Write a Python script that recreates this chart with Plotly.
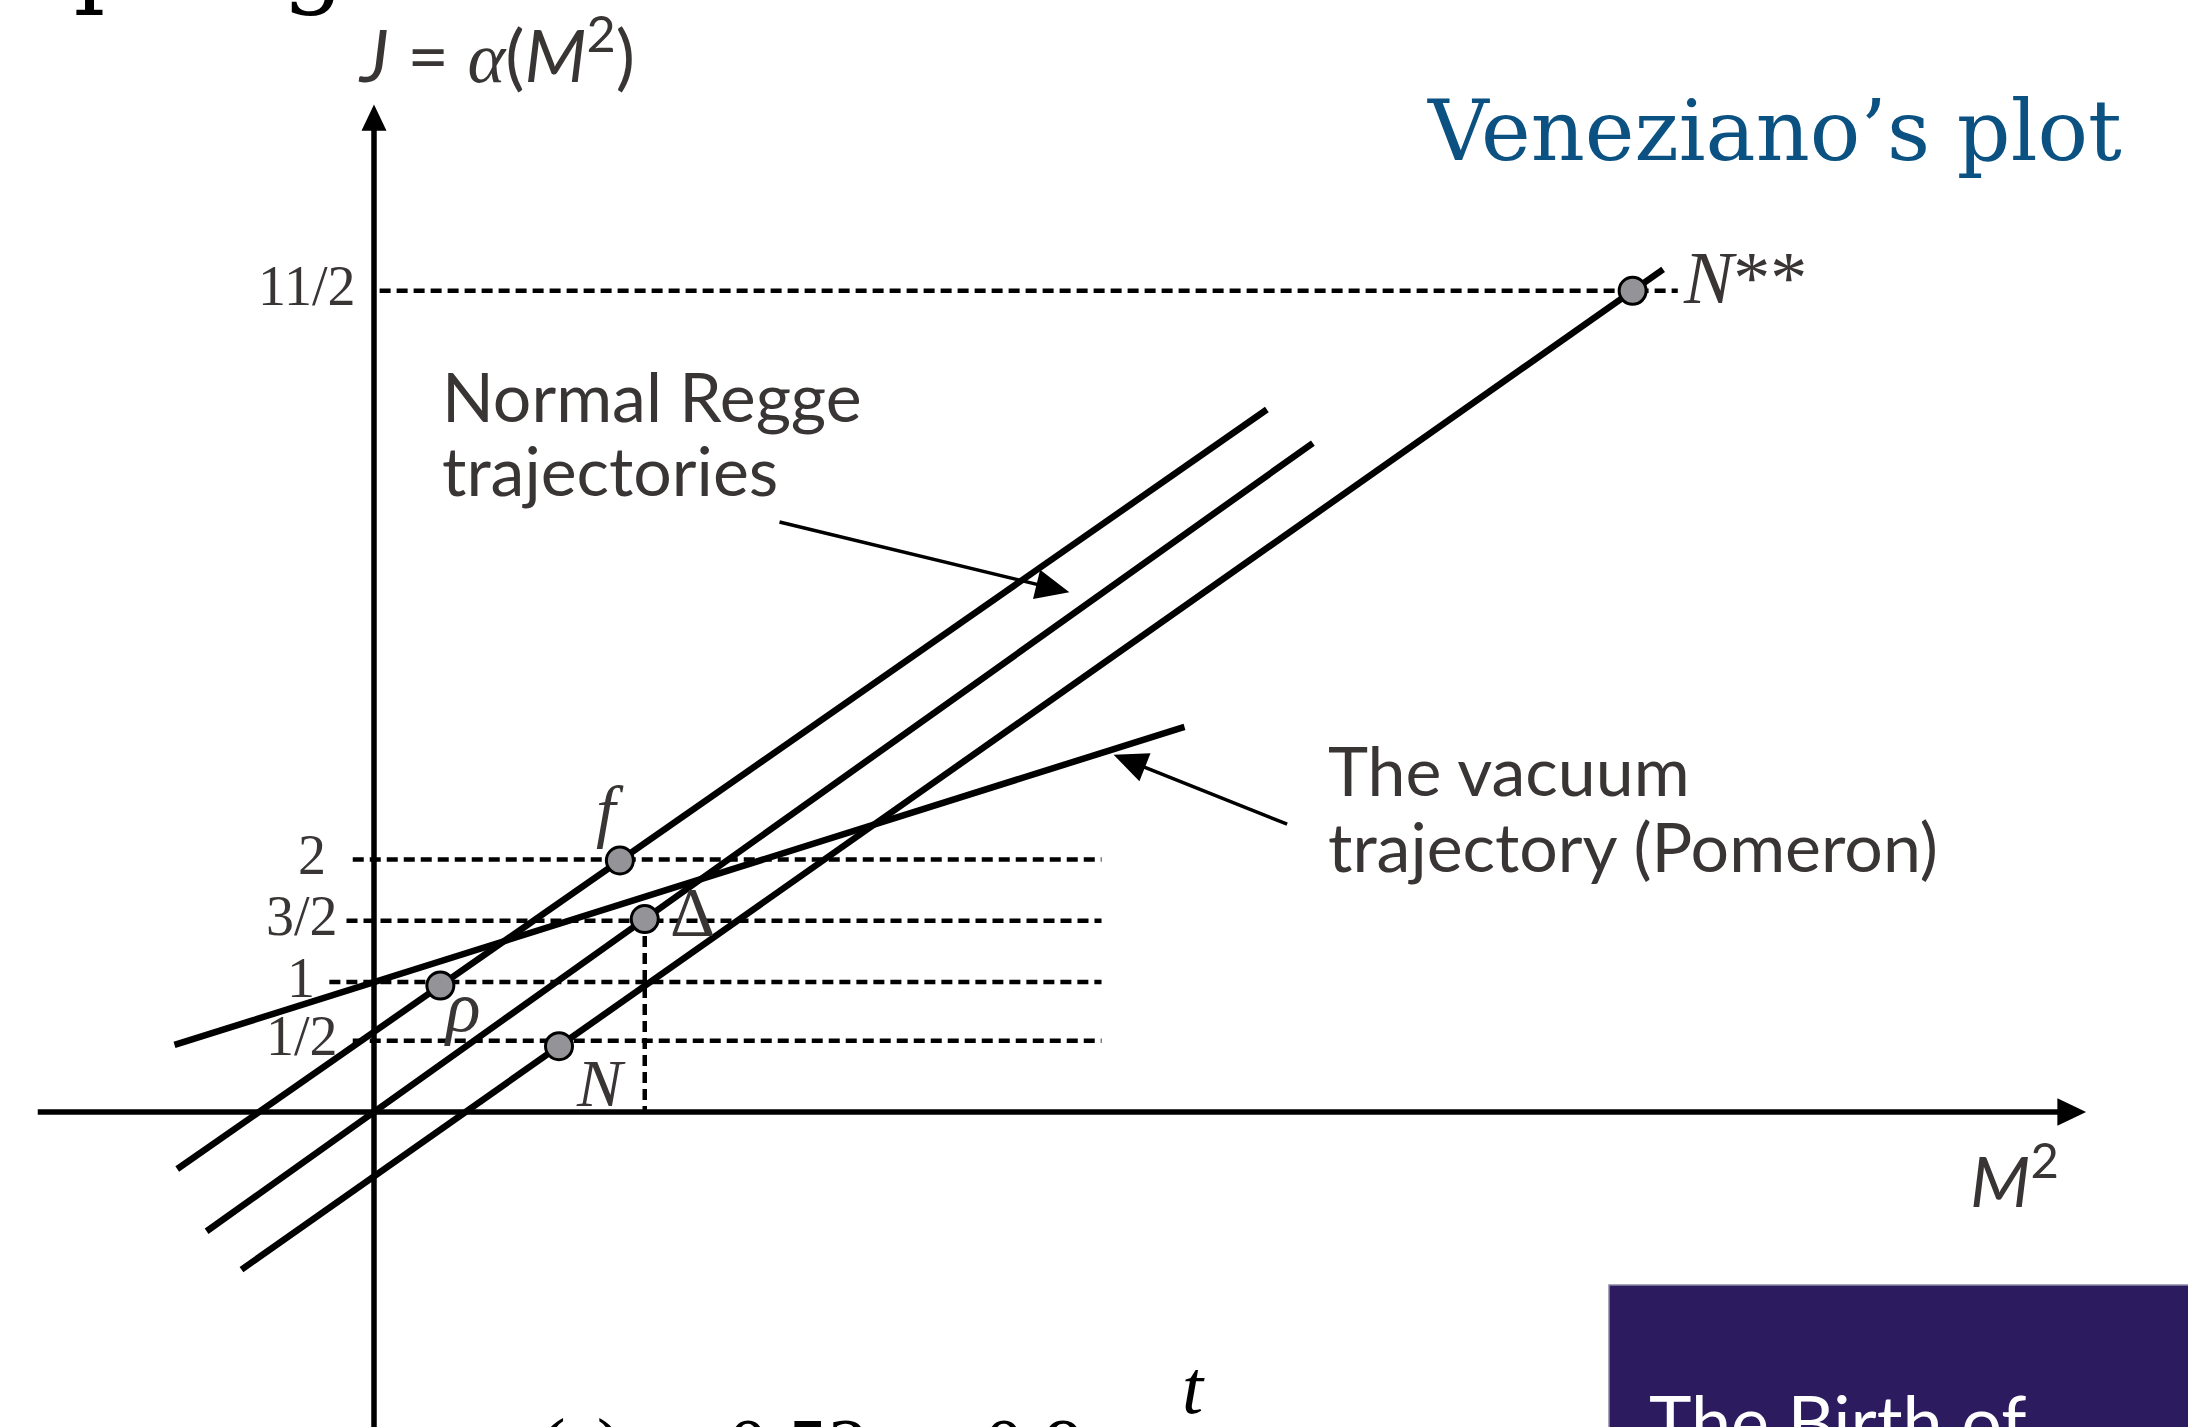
import plotly.graph_objects as go

# ---- data -------------------------------------------------------------
# spin values marked on the J axis and the heights at which they are drawn
# (the diagram is schematic: the J axis is not to scale)
J_LABELS = ["1/2", "1", "3/2", "2", "11/2"]
J_LEVELS = [0.57, 1.04, 1.53, 2.02, 6.57]

# trajectories  J = intercept + slope * M^2
TRAJ_NAMES = ["rho / f", "Delta", "N", "Pomeron"]
TRAJ_INTERCEPT = [0.641, 0.0, -0.515, 1.039]
TRAJ_SLOPE = [0.697, 0.7125, 0.7036, 0.315]
TRAJ_M2_START = [-1.574, -1.339, -1.060, -1.596]
TRAJ_M2_END = [7.143, 7.511, 10.313, 6.484]

# resonances sitting on the trajectories
HADRON_LABELS = ["<i>ρ</i>", "<i>f</i>", "Δ", "<i>N</i>", "<i>N</i>**"]
HADRON_TRAJ = [0, 0, 1, 2, 2]
HADRON_M2 = [0.531, 1.967, 2.166, 1.480, 10.069]

# ---- layout constants ---------------------------------------------------
W, H = 2188, 1427
X_RANGE = [-2.992, 14.512]
Y_RANGE = [-2.52, 8.896]

INK = "#3a3535"
SERIF = "Liberation Serif, Times New Roman, serif"
HAND = "Lato, sans-serif"

# dashed guide lines (one per J level)
DASH_START = [-0.17, -0.357, -0.22, -0.17, 0.045]
DASH_END = [5.82, 5.82, 5.82, 5.82, 10.43]
DASH = dict(color="black", width=4.5, dash="11px,6px")
# tick-label anchors (right edge) and label offsets of the resonances
TICK_RIGHT = [-0.274, -0.458, -0.274, -0.368, -0.14]
LABEL_DX = [0.173, -0.079, 0.378, 0.336, 0.387]
LABEL_DY = [-0.171, 0.404, 0.049, -0.294, 0.104]
LABEL_SIZE = [72, 70, 70, 68, 74]


def traj_j(k, m2):
    return TRAJ_INTERCEPT[k] + TRAJ_SLOPE[k] * m2


def arrow_head(tip, tail, length, half):
    """Filled triangle path pointing from tail towards tip (data units)."""
    dx, dy = tip[0] - tail[0], tip[1] - tail[1]
    n = (dx * dx + dy * dy) ** 0.5
    ux, uy = dx / n, dy / n
    bx, by = tip[0] - ux * length, tip[1] - uy * length
    px, py = -uy * half, ux * half
    return (f"M {tip[0]},{tip[1]} L {bx + px},{by + py} "
            f"L {bx - px},{by - py} Z")


fig = go.Figure()

# horizontal dashed guides
for lev, x0, x1 in zip(J_LEVELS, DASH_START, DASH_END):
    fig.add_trace(go.Scatter(x=[x0, x1], y=[lev, lev], mode="lines",
                             line=DASH, hoverinfo="skip"))

# vertical dashed drop from the Delta
d_m2 = HADRON_M2[2]
fig.add_trace(go.Scatter(x=[d_m2, d_m2], y=[traj_j(1, d_m2), 0], mode="lines",
                         line=DASH, hoverinfo="skip"))

# axes
AX_Y_TIP = (0, 8.06)
AX_X_TIP = (13.697, 0)
fig.add_trace(go.Scatter(x=[0, 0], y=[Y_RANGE[0] - 0.1, AX_Y_TIP[1] - 0.1],
                         mode="lines", line=dict(color="black", width=5.5),
                         hoverinfo="skip"))
fig.add_trace(go.Scatter(x=[-2.69, AX_X_TIP[0] - 0.1], y=[0, 0],
                         mode="lines", line=dict(color="black", width=5.5),
                         hoverinfo="skip"))

# trajectories
for k in range(len(TRAJ_NAMES)):
    xs = [TRAJ_M2_START[k], TRAJ_M2_END[k]]
    fig.add_trace(go.Scatter(x=xs, y=[traj_j(k, v) for v in xs], mode="lines",
                             name=TRAJ_NAMES[k],
                             line=dict(color="black", width=6.5),
                             hoverinfo="skip"))

# resonances
hx = HADRON_M2
hy = [traj_j(t, m) for t, m in zip(HADRON_TRAJ, HADRON_M2)]
fig.add_trace(go.Scatter(x=hx, y=hy, mode="markers",
                         marker=dict(size=27, color="#939398",
                                     line=dict(color="black", width=3)),
                         hoverinfo="skip"))

# pointer arrows from the captions
REGGE_TAIL, REGGE_TIP = (3.244, 4.72), (5.563, 4.158)
POM_TAIL, POM_TIP = (7.305, 2.303), (5.917, 2.858)
shapes = []
for tail, tip in [(REGGE_TAIL, REGGE_TIP), (POM_TAIL, POM_TIP)]:
    dx, dy = tip[0] - tail[0], tip[1] - tail[1]
    n = (dx * dx + dy * dy) ** 0.5
    end = (tip[0] - dx / n * 0.2, tip[1] - dy / n * 0.2)
    fig.add_trace(go.Scatter(x=[tail[0], end[0]], y=[tail[1], end[1]], mode="lines",
                             line=dict(color="black", width=3.5), hoverinfo="skip"))
    shapes.append(dict(type="path", xref="x", yref="y",
                       path=arrow_head(tip, tail, 0.27, 0.12),
                       fillcolor="black", line=dict(width=0)))

shapes.append(dict(type="path", xref="x", yref="y",
                   path=arrow_head(AX_Y_TIP, (0, 0), 0.21, 0.1),
                   fillcolor="black", line=dict(width=0)))
shapes.append(dict(type="path", xref="x", yref="y",
                   path=arrow_head(AX_X_TIP, (0, 0), 0.23, 0.11),
                   fillcolor="black", line=dict(width=0)))

# book cover in the corner
shapes.append(dict(type="rect", xref="x", yref="y", x0=9.88, x1=14.7,
                   y0=-2.7, y1=-1.384, fillcolor="#2c1b5e",
                   line=dict(color="#8c88a8", width=1.5), layer="below"))


def text(t, x, y, size, family=SERIF, color=INK, xa="center", ya="middle", **kw):
    return dict(text=t, x=x, y=y, xref="x", yref="y", showarrow=False,
                xanchor=xa, yanchor=ya,
                font=dict(size=size, family=family, color=color, **kw))


ann = []
# J tick labels
for lab, lev, xr in zip(J_LABELS, J_LEVELS, TICK_RIGHT):
    ann.append(text(lab, xr, lev + 0.035, 56, xa="right"))
# resonance labels
for k, lab in enumerate(HADRON_LABELS):
    xa = "left" if k == 4 else "center"
    ann.append(text(lab, hx[k] + LABEL_DX[k], hy[k] + LABEL_DY[k],
                    LABEL_SIZE[k], xa=xa))

# axis titles
ann.append(text("<i>J</i> = <span style='font-family:Liberation Serif'><i>α</i></span>"
                "(<i>M</i><sup>2</sup>)", -0.145, 8.5, 72, family=HAND, xa="left"))
ann.append(text("<i>M</i><sup>2</sup>", 12.75, -0.51, 70, family=HAND, xa="left"))

# captions
ann.append(text("Normal Regge", 0.525, 5.73, 68, family=HAND, xa="left"))
ann.append(text("trajectories", 0.525, 5.138, 68, family=HAND, xa="left"))
ann.append(text("The vacuum", 7.613, 2.74, 68, family=HAND, xa="left"))
ann.append(text("trajectory (Pomeron)", 7.613, 2.13, 68, family=HAND, xa="left"))

# slide title
ann.append(text("Veneziano’s plot", 11.2, 7.852, 84, family="DejaVu Serif",
                color="#0b5282"))
ann.append(text("Spring", -2.968, 8.736, 100, family="DejaVu Serif",
                color="black", xa="left", ya="bottom"))

# formula running off the bottom of the slide
ann.append(text("<i>α</i>(<i>s</i>) =", 0.968, -2.31, 80, color="black",
                xa="left", ya="top"))
ann.append(text("0.52 +", 2.816, -2.31, 80, color="black", xa="left", ya="top"))
ann.append(text("0.9", 4.864, -2.31, 80, color="black", xa="left", ya="top"))
ann.append(text("<i>t</i>", 6.552, -1.844, 76, color="black", ya="top"))

# text on the book cover
ann.append(text("The Birth of", 10.18, -2.104, 72, family="Lato",
                color="white", xa="left", ya="top"))

fig.update_layout(
    width=W, height=H,
    margin=dict(l=0, r=0, t=0, b=0),
    paper_bgcolor="white", plot_bgcolor="white",
    showlegend=False,
    xaxis=dict(range=X_RANGE, visible=False, fixedrange=True),
    yaxis=dict(range=Y_RANGE, visible=False, fixedrange=True),
    shapes=shapes,
    annotations=ann,
)

fig.write_html("out.html")
